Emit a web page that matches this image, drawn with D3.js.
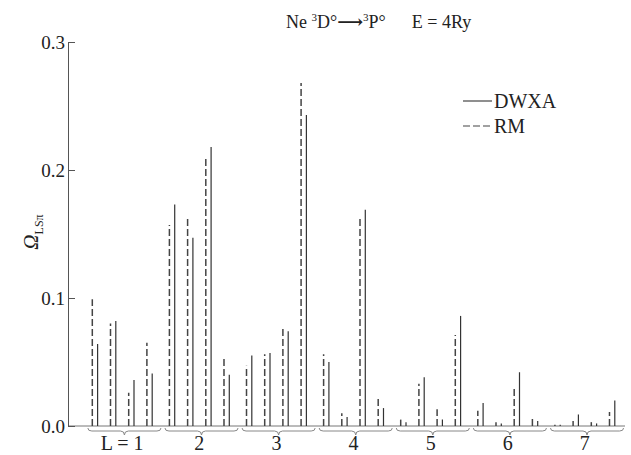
<!DOCTYPE html>
<html>
<head>
<meta charset="utf-8">
<script src="https://cdn.jsdelivr.net/npm/d3@7"></script>
<style>
  body { margin: 0; background: #fff; }
  text { font-family: "Liberation Serif", "DejaVu Serif", serif; fill: #222; }
</style>
</head>
<body>
<div id="chart"></div>
<script>
// partial waves L and the 4 channels inside each one
var partialWaves = [1, 2, 3, 4, 5, 6, 7];
var channels = [0, 1, 2, 3];
var waveLabels = ["L = 1", "2", "3", "4", "5", "6", "7"];

// collision strengths, one row per L
var rmValues = [
  [0.099, 0.080, 0.026, 0.065],
  [0.157, 0.162, 0.209, 0.054],
  [0.047, 0.056, 0.078, 0.268],
  [0.056, 0.010, 0.162, 0.022],
  [0.005, 0.033, 0.013, 0.071],
  [0.012, 0.003, 0.029, 0.006],
  [0.001, 0.004, 0.003, 0.011]
];
var dwxaValues = [
  [0.064, 0.082, 0.036, 0.041],
  [0.173, 0.147, 0.218, 0.040],
  [0.055, 0.057, 0.074, 0.243],
  [0.050, 0.007, 0.169, 0.014],
  [0.003, 0.038, 0.005, 0.086],
  [0.018, 0.002, 0.042, 0.004],
  [0.001, 0.009, 0.002, 0.020]
];
var yTicks = [0, 0.1, 0.2, 0.3];

var w = 631, h = 455;
var axisX = 68;

var svg = d3.select("#chart").append("svg")
  .attr("width", w).attr("height", h);

var y = d3.scaleLinear().domain([0, 0.3]).range([426, 42]);

var x0 = d3.scaleBand().domain(partialWaves)
  .range([83.7, 623.4])
  .paddingInner(0.056).paddingOuter(0.028);
var x1 = d3.scaleBand().domain(channels).range([0, x0.bandwidth()]);
var pairGap = 5.3;

function pos(L, c, which) {
  var mid = x0(L) + x1(c) + x1.bandwidth() / 2;
  return which == "rm" ? mid - pairGap / 2 : mid + pairGap / 2;
}

// flatten for drawing
var marks = [];
partialWaves.forEach(function(L, i) {
  channels.forEach(function(c) {
    marks.push({L: L, c: c, v: rmValues[i][c], type: "rm"});
    marks.push({L: L, c: c, v: dwxaValues[i][c], type: "dwxa"});
  });
});

// baseline
svg.append("line")
  .attr("x1", axisX).attr("x2", 625)
  .attr("y1", y(0)).attr("y2", y(0))
  .attr("stroke", "#777").attr("stroke-width", 1);

// y axis, ticks pointing inwards
var yAxis = d3.axisLeft(y).tickValues(yTicks)
  .tickSizeInner(-7).tickSizeOuter(0).tickPadding(3)
  .tickFormat(d3.format(".1f"));
var ga = svg.append("g").attr("transform", "translate(" + axisX + ",0)").call(yAxis);
ga.select(".domain").attr("stroke", "#555");
ga.selectAll(".tick line").attr("stroke", "#555");
ga.selectAll(".tick text")
  .attr("font-family", "Liberation Serif, serif")
  .attr("font-size", 19).attr("fill", "#222").attr("dy", "0.35em");

// the lines
svg.selectAll("line.mark")
  .data(marks)
  .enter().append("line")
  .attr("class", "mark")
  .attr("x1", function(d) { return pos(d.L, d.c, d.type); })
  .attr("x2", function(d) { return pos(d.L, d.c, d.type); })
  .attr("y1", y(0))
  .attr("y2", function(d) { return y(d.v); })
  .attr("stroke", function(d) { return d.type == "rm" ? "#444" : "#333"; })
  .attr("stroke-width", function(d) { return d.type == "rm" ? 1.5 : 1.2; })
  .attr("stroke-dasharray", function(d) { return d.type == "rm" ? "7,3" : null; });

// braces under each L group
var by = 431;
function brace(a, b) {
  var c = (a + b) / 2, p = d3.path();
  p.moveTo(a, by - 3);
  p.quadraticCurveTo(a, by, a + 4, by);
  p.lineTo(c - 4, by);
  p.quadraticCurveTo(c, by, c, by + 4);
  p.quadraticCurveTo(c, by, c + 4, by);
  p.lineTo(b - 4, by);
  p.quadraticCurveTo(b, by, b, by - 3);
  return p.toString();
}
svg.selectAll("path.brace")
  .data(partialWaves)
  .enter().append("path")
  .attr("class", "brace")
  .attr("d", function(L) { return brace(x0(L) + 2, x0(L) + x0.step() - 2); })
  .attr("fill", "none").attr("stroke", "#888").attr("stroke-width", 1);

svg.selectAll("text.wave")
  .data(partialWaves)
  .enter().append("text")
  .attr("class", "wave")
  .attr("x", function(L) { return x0(L) + x0.bandwidth() / 2; })
  .attr("y", 450)
  .attr("text-anchor", "middle")
  .attr("font-size", 20)
  .text(function(L, i) { return waveLabels[i]; });

// y label
var yl = svg.append("text")
  .attr("transform", "translate(38,232) rotate(-90)")
  .attr("text-anchor", "middle")
  .attr("font-size", 21);
yl.append("tspan").attr("font-style", "italic").text("Ω");
yl.append("tspan").attr("font-size", 12).attr("dy", 5).text("LSπ");

// title
var t = svg.append("text").attr("x", 286).attr("y", 28).attr("font-size", 18);
t.append("tspan").text("Ne  ");
t.append("tspan").attr("font-size", 11).attr("dy", -7).text("3");
t.append("tspan").attr("dy", 7).text("D°");
t.append("tspan").attr("font-weight", "bold").text("⟶");
t.append("tspan").attr("font-size", 11).attr("dy", -7).text("3");
t.append("tspan").attr("dy", 7).text("P°");
t.append("tspan").attr("dx", 26).text("E = 4Ry");

// legend
var legend = [{name: "DWXA", dash: null}, {name: "RM", dash: "7,3"}];
var lg = svg.selectAll("g.legend")
  .data(legend)
  .enter().append("g")
  .attr("class", "legend")
  .attr("transform", function(d, i) { return "translate(463," + (101 + i * 25) + ")"; });
lg.append("line")
  .attr("x1", 0).attr("x2", 29)
  .attr("stroke", "#444").attr("stroke-width", 1.2)
  .attr("stroke-dasharray", function(d) { return d.dash; });
lg.append("text")
  .attr("x", 31).attr("dy", "0.35em")
  .attr("font-size", 20)
  .text(function(d) { return d.name; });
</script>
</body>
</html>
